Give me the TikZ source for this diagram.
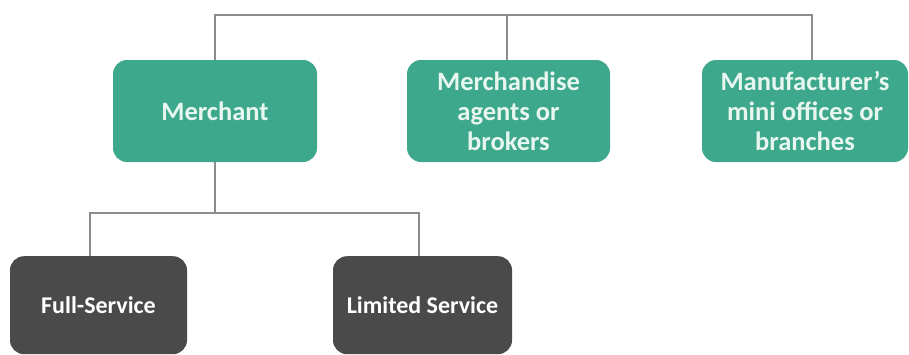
\documentclass[tikz,border=0pt]{standalone}
\usepackage{fontspec}
\setmainfont{Carlito}
\definecolor{teal1}{RGB}{62,168,140}
\definecolor{dark1}{RGB}{74,74,74}
\definecolor{wire}{RGB}{140,140,140}
\definecolor{txtl}{RGB}{232,246,240}
\begin{document}
\begin{tikzpicture}[x=1pt,y=-1pt,
  tbox/.style={draw=none,fill=teal1,rounded corners=14pt,text=txtl,font=\bfseries\fontsize{26.5}{30}\selectfont,align=center,inner sep=0pt},
  dbox/.style={draw=none,fill=dark1,rounded corners=14pt,text=white,font=\bfseries\fontsize{24}{28}\selectfont,align=center,inner sep=0pt},
  wirel/.style={draw=wire,line width=2pt}]
\useasboundingbox (0,0) rectangle (909,354);
\node[tbox,minimum width=204pt,minimum height=102pt] (m) at (215,111) {Merchant};
\node[tbox,minimum width=203pt,minimum height=102pt] (ma) at (508.5,111) {Merchandise\\agents or\\brokers};
\node[tbox,minimum width=206pt,minimum height=102pt] (mf) at (805,111) {Manufacturer’s\\mini offices or\\branches};
\node[dbox,minimum width=177pt,minimum height=98pt,anchor=north] (fs) at (98.5,256) {Full-Service};
\node[dbox,minimum width=179pt,minimum height=98pt,anchor=north] (ls) at (422.5,256) {Limited Service};
\coordinate (mfc) at (812,60);
\coordinate (mac) at (507,60);
\coordinate (fsc) at (90,256);
\coordinate (lsc) at (419,256);
\draw[wirel] (m.north) -- (215,15) -| (mfc);
\draw[wirel] (mac) -- (mac |- 0,15);
\draw[wirel] (m.south) -- (215,213);
\draw[wirel] (fsc) |- (419,213) -- (lsc);
\end{tikzpicture}
\end{document}
